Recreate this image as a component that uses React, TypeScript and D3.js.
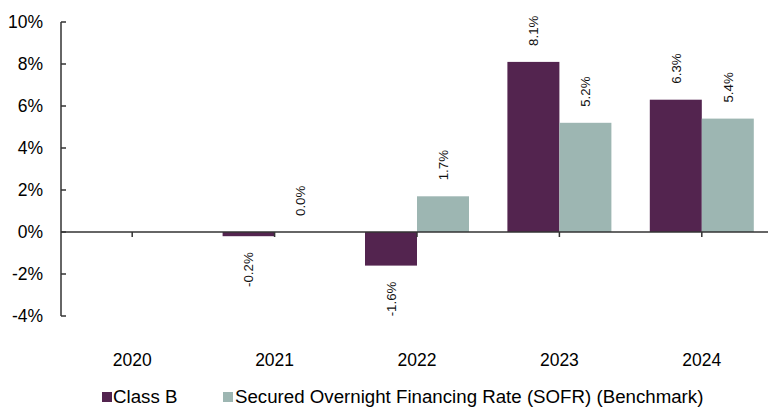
import React from "react";
import * as d3 from "d3";

const categories = ["2020", "2021", "2022", "2023", "2024"];
const classB: (number | null)[] = [null, -0.2, -1.6, 8.1, 6.3];
const sofr: (number | null)[] = [null, 0.0, 1.7, 5.2, 5.4];
const yTicks = [-4, -2, 0, 2, 4, 6, 8, 10];
const seriesNames = ["Class B", "Secured Overnight Financing Rate (SOFR) (Benchmark)"];
const colors = ["#53244f", "#9db6b2"];

const W = 768;
const H = 409;
const FONT = "'Liberation Sans', Arial, sans-serif";

export default function App() {
  const x0 = d3.scaleBand<string>().domain(categories).range([61, 773]).paddingInner(0).paddingOuter(0);
  const y = d3.scaleLinear().domain([-4, 10]).range([316, 22]);
  const barW = 52;
  const series = [classB, sofr];
  const axisColor = "#333";

  return (
    <svg width={W} height={H} style={{ position: "absolute", left: 0, top: 0, background: "#fff" }} fontFamily={FONT}>
      {/* bars */}
      {series.map((vals, si) =>
        vals.map((v, i) => {
          if (v === null) return null;
          const cx = (x0(categories[i]) as number) + x0.bandwidth() / 2;
          const xl = si === 0 ? cx - barW : cx;
          const y0 = y(0);
          const yv = y(v);
          return (
            <rect
              key={`b${si}-${i}`}
              x={xl}
              y={Math.min(y0, yv)}
              width={barW}
              height={Math.abs(yv - y0)}
              fill={colors[si]}
            />
          );
        })
      )}
      {/* y axis */}
      <line x1={61} x2={61} y1={y(10)} y2={y(-4)} stroke={axisColor} strokeWidth={1.5} />
      {yTicks.map((t) => (
        <g key={`yt${t}`}>
          <line x1={61} x2={66} y1={y(t)} y2={y(t)} stroke={axisColor} strokeWidth={1.5} />
          <text x={43} y={y(t)} dy="0.36em" textAnchor="end" fontSize={17.5} fill="#000">
            {`${t}%`}
          </text>
        </g>
      ))}
      {/* zero line */}
      <line x1={61} x2={W} y1={y(0)} y2={y(0)} stroke={axisColor} strokeWidth={1.5} />
      {categories.map((c) => {
        const cx = (x0(c) as number) + x0.bandwidth() / 2;
        return (
          <g key={`xt${c}`}>
            <line x1={cx} x2={cx} y1={y(0)} y2={y(0) + 5} stroke={axisColor} strokeWidth={1.5} />
            <text x={cx} y={366} textAnchor="middle" fontSize={17.5} fill="#000">
              {c}
            </text>
          </g>
        );
      })}
      {/* value labels */}
      {series.map((vals, si) =>
        vals.map((v, i) => {
          if (v === null) return null;
          const cx = (x0(categories[i]) as number) + x0.bandwidth() / 2;
          const bx = si === 0 ? cx - barW / 2 : cx + barW / 2;
          const pos = v >= 0;
          const ly = pos ? y(v) - 16 : y(v) + 16;
          return (
            <text
              key={`l${si}-${i}`}
              transform={`translate(${bx},${ly}) rotate(-90)`}
              dy="0.36em"
              textAnchor={pos ? "start" : "end"}
              fontSize={13.3}
              fill="#111"
            >
              {`${v.toFixed(1)}%`}
            </text>
          );
        })
      )}
      {/* legend */}
      <rect x={102} y={392} width={10} height={10} fill={colors[0]} />
      <text x={113} y={403} fontSize={18.7} fill="#000">
        {seriesNames[0]}
      </text>
      <rect x={223} y={392} width={10} height={10} fill={colors[1]} />
      <text x={235} y={403} fontSize={18.7} fill="#000">
        {seriesNames[1]}
      </text>
    </svg>
  );
}
